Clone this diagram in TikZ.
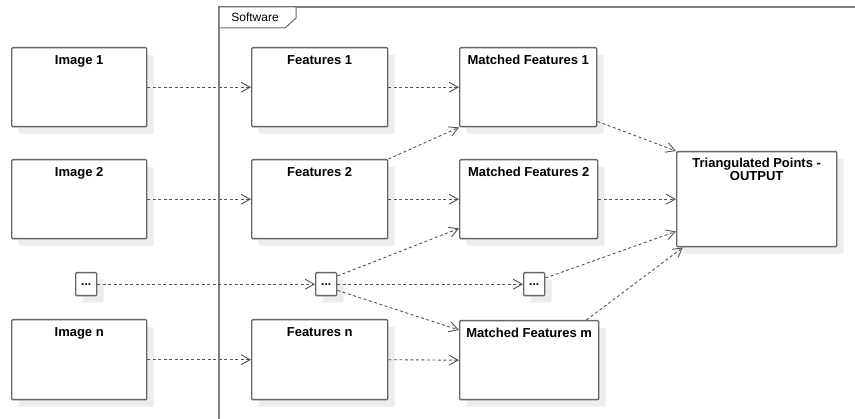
\documentclass[tikz,border=0pt]{standalone}
\usepackage{fontspec}
\setmainfont{Liberation Sans}
\usetikzlibrary{arrows.meta,shadows}
\definecolor{bordc}{HTML}{666666}
\definecolor{linec}{HTML}{555555}
\definecolor{framec}{HTML}{808080}
\definecolor{shadc}{HTML}{EDEDED}
\tikzset{
  blk/.style={draw=bordc, line width=1.4pt, fill=white, rounded corners=1pt, anchor=north west, inner sep=0pt,
    drop shadow={shadow xshift=7pt, shadow yshift=-7pt, fill=shadc, opacity=1}},
  ttl/.style={font=\fontsize{13}{13}\selectfont\bfseries, anchor=base, yshift=-18pt, inner sep=0pt},
  dep/.style={draw=linec, line width=0.9pt, dash pattern=on 3pt off 2.5pt, -{Straight Barb[length=9pt,width=10pt,line width=0.9pt]}},
  dotbox/.style={blk, minimum width=21pt, minimum height=23pt, font=\fontsize{12}{12}\selectfont\bfseries, text depth=0pt}
}
\begin{document}
\begin{tikzpicture}[x=1pt,y=-1pt]
\useasboundingbox (0,0) rectangle (855,419);
% frame
\draw[framec, line width=1.6pt] (219,420) -- (219,7) -- (856,7);
\draw[framec!80!black, line width=1pt, fill=white] (219,7) -- (296,7) -- (296,18) -- (285,28) -- (219,28) -- cycle;
\node[font=\fontsize{12}{12}\selectfont, anchor=base, inner sep=0pt] (sw) at (255,22) {Software};
% boxes
\node[blk, minimum width=135pt, minimum height=79pt, label={[ttl]north:Image 1}] (img1) at (11,47) {};
\node[blk, minimum width=135pt, minimum height=79pt, label={[ttl]north:Image 2}] (img2) at (11,159) {};
\node[blk, minimum width=135pt, minimum height=80pt, label={[ttl]north:Image n}] (imgn) at (11,319) {};
\node[blk, minimum width=136pt, minimum height=79pt, label={[ttl]north:Features 1}] (f1) at (251,47) {};
\node[blk, minimum width=136pt, minimum height=79pt, label={[ttl]north:Features 2}] (f2) at (251,159) {};
\node[blk, minimum width=136pt, minimum height=80pt, label={[ttl]north:Features n}] (fn) at (251,319) {};
\node[blk, minimum width=137pt, minimum height=79pt, label={[ttl]north:Matched Features 1}] (mf1) at (459,47) {};
\node[blk, minimum width=138pt, minimum height=79pt, label={[ttl]north:Matched Features 2}] (mf2) at (459,159) {};
\node[blk, minimum width=139pt, minimum height=79pt, label={[ttl]north:Matched Features m}] (mfm) at (459,320) {};
\node[blk, minimum width=160pt, minimum height=95pt, label={[ttl, yshift=-12pt, align=center]north:Triangulated Points -\\OUTPUT}] (tri) at (676,151) {};
\node[dotbox] (d1) at (75,272) {...};
\node[dotbox] (d2) at (315,272) {...};
\node[dotbox] (d3) at (523,272) {...};
% connectors
\draw[dep] (img1.east) -- (f1.west);
\draw[dep] (f1.east) -- (mf1.west);
\draw[dep] (f2.north east) -- (mf1.south west);
\draw[dep] ([yshift=6pt]mf1.south east) -- (tri.north west);
\draw[dep] (img2.east) -- (f2.west);
\draw[dep] (f2.east) -- (mf2.west);
\draw[dep] (mf2.east) -- (tri.west |- mf2.east);
\draw[dep] (d1.east) -- (d2.west);
\draw[dep] ([yshift=-4pt]d2.north east) -- ([yshift=11pt]mf2.south west);
\draw[dep] (d2.east) -- (d3.west);
\draw[dep] ([yshift=6pt]d2.south east) -- ([yshift=-10pt]mfm.north west);
\draw[dep] ([yshift=-6pt]d3.north east) -- ([yshift=16pt]tri.south west);
\draw[dep] ([xshift=-13pt]mfm.north east) -- ([xshift=7pt]tri.south west);
\draw[dep] (imgn.east) -- (fn.west);
\draw[dep] (fn.east) -- (mfm.west);
\end{tikzpicture}
\end{document}
